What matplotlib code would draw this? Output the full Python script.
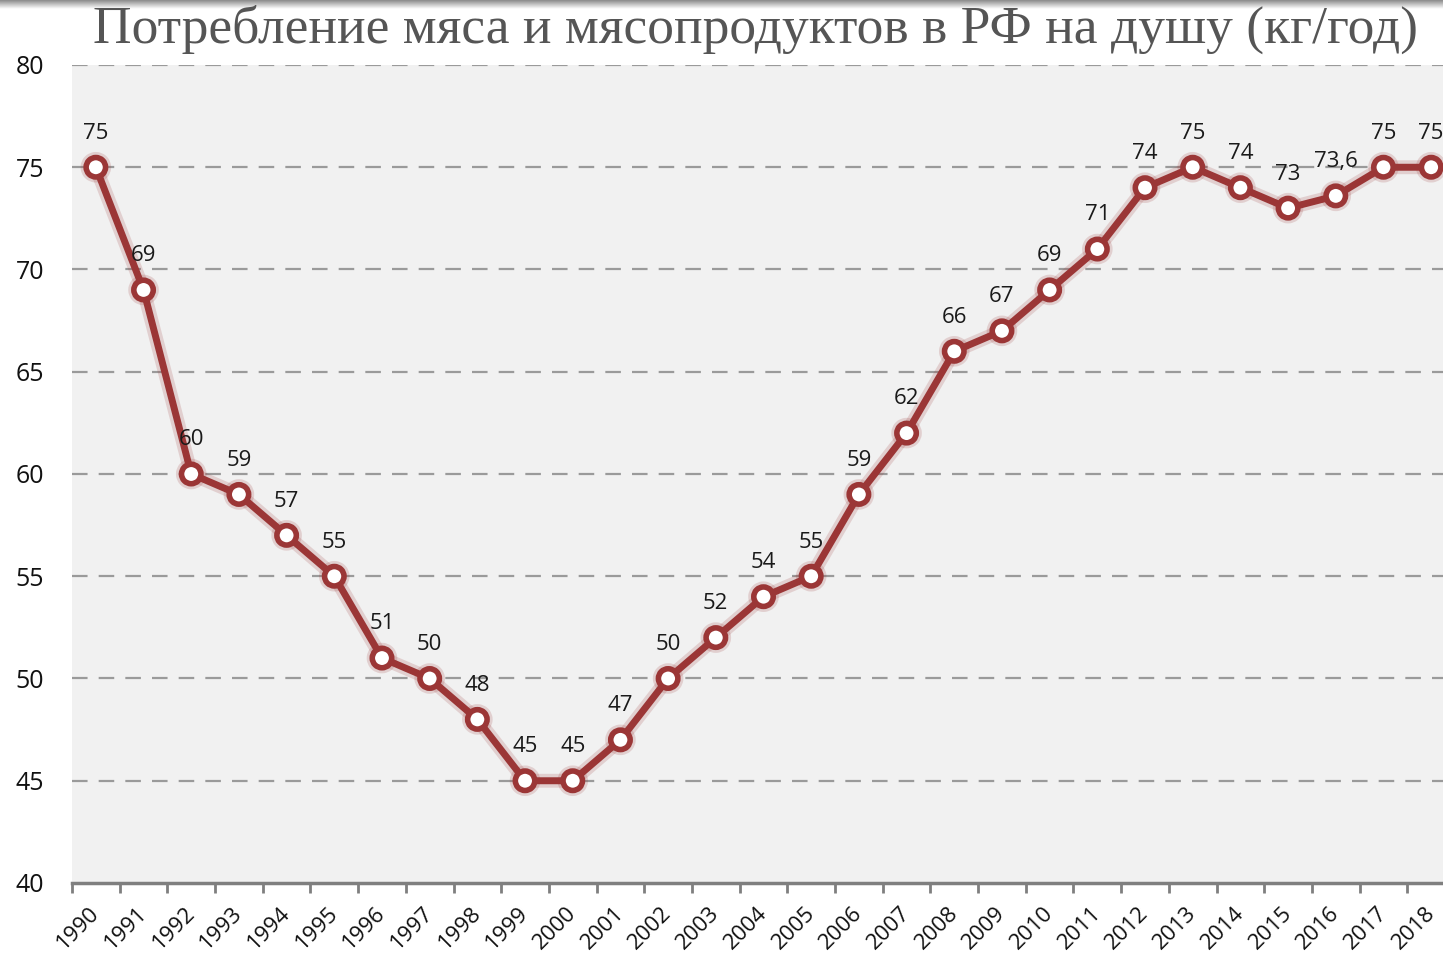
import matplotlib

matplotlib.use("Agg")

import numpy as np
import matplotlib.pyplot as plt
import matplotlib.patheffects as pe
from matplotlib.transforms import ScaledTranslation

years = [str(y) for y in range(1990, 2019)]
consumption = [75, 69, 60, 59, 57, 55, 51, 50, 48, 45, 45, 47, 50, 52, 54,
               55, 59, 62, 66, 67, 69, 71, 74, 75, 74, 73, 73.6, 75, 75]
value_labels = ["75", "69", "60", "59", "57", "55", "51", "50", "48", "45",
                "45", "47", "50", "52", "54", "55", "59", "62", "66", "67",
                "69", "71", "74", "75", "74", "73", "73,6", "75", "75"]
y_ticks = [40, 45, 50, 55, 60, 65, 70, 75, 80]
title = "Потребление мяса и мясопродуктов в РФ на душу (кг/год)"

LINE = "#9b3636"

fig = plt.figure(figsize=(14.43, 9.58), dpi=100)

# thin grey shade along the top edge
band = fig.add_axes([0, 1 - 9 / 958, 1, 9 / 958])
band.imshow(np.linspace(0.55, 1.0, 20).reshape(-1, 1), cmap="gray", vmin=0, vmax=1,
            aspect="auto", extent=(0, 1, 0, 1))
band.axis("off")

ax = fig.add_axes([72 / 1443, 1 - 883 / 958, (1455 - 72) / 1443, (883 - 65) / 958])
ax.set_facecolor("#f1f1f1")

x = list(range(len(years)))
ax.set_xlim(-0.5, len(years) - 0.5)
ax.set_ylim(40, 80)

for v in y_ticks[1:]:
    ax.axhline(v, color="#9a9a9a", lw=1.6, dashes=(7, 5), zorder=1)

glow = [pe.Stroke(linewidth=10, foreground=LINE, alpha=0.18), pe.Normal()]
ax.plot(x, consumption, color=LINE, lw=5, zorder=3, path_effects=glow,
        solid_capstyle="round", solid_joinstyle="round")
ax.plot(x, consumption, linestyle="none", marker="o", markersize=14,
        markerfacecolor="white", markeredgecolor=LINE, markeredgewidth=4,
        zorder=4, path_effects=[pe.Stroke(linewidth=8, foreground=LINE, alpha=0.18), pe.Normal()])

for xi, yi, lab in zip(x, consumption, value_labels):
    ax.annotate(lab, (xi, yi), xytext=(0, 17), textcoords="offset points",
                ha="center", va="bottom", fontsize=16, color="#1a1a1a",
                fontfamily="Open Sans", zorder=5)

for side in ("top", "right", "left"):
    ax.spines[side].set_visible(False)
ax.spines["bottom"].set_color("#7f7f7f")
ax.spines["bottom"].set_linewidth(2.5)

ax.set_yticks(y_ticks)
ax.set_yticklabels([str(v) for v in y_ticks], fontsize=18, fontfamily="Open Sans", color="#111111")
ax.tick_params(axis="y", length=0, pad=20)

ax.set_xticks([i - 0.5 for i in x] + [len(years) - 0.5])
ax.set_xticklabels([])
ax.tick_params(axis="x", length=7, width=2, color="#7f7f7f", direction="out")
ax.set_xticks(x, minor=True)
ax.set_xticklabels(years, minor=True, rotation=45, ha="right", va="top",
                   rotation_mode="anchor", fontsize=16, fontfamily="Open Sans", color="#111111")
ax.tick_params(axis="x", which="minor", length=0, pad=14)
shift = ScaledTranslation(-7 / 100, 0, fig.dpi_scale_trans)
for label in ax.get_xticklabels(minor=True):
    label.set_transform(label.get_transform() + shift)

fig.text(93 / 1443, 1 - 29 / 958, title, ha="left", va="center", fontsize=38.5,
         fontfamily="Liberation Serif", color="#555555")

fig.savefig("out.png", dpi=100)
